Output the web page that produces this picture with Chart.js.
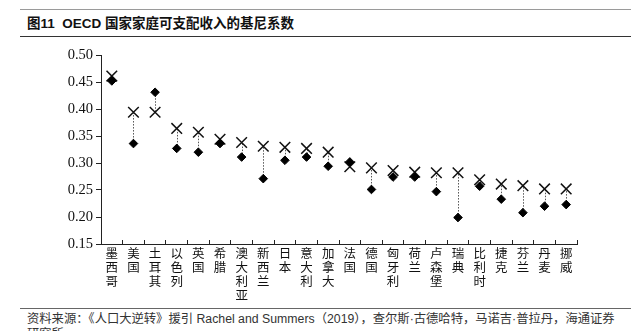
<!DOCTYPE html>
<html lang="zh">
<head>
<meta charset="utf-8">
<script src="https://cdn.jsdelivr.net/npm/chart.js@4/dist/chart.umd.min.js"></script>
<style>
  html, body { margin: 0; padding: 0; background: #fff; }
  body { width: 631px; height: 331px; position: relative; overflow: hidden; }
  .rule-top { position: absolute; left: 20px; right: 0; top: 9px; height: 1px; background: #9a9a9a; }
  .title {
    position: absolute; left: 27px; top: 15px;
    font: bold 13.5px "Liberation Sans", "Noto Sans CJK SC", sans-serif;
    color: #111; white-space: nowrap; line-height: 18px;
  }
  .rule-mid { position: absolute; left: 20px; right: 0; top: 36px; height: 1px; background: #333; }
  .chart-box { position: absolute; left: 0; top: 40px; width: 631px; height: 266px; }
  .rule-foot { position: absolute; left: 20px; right: 0; top: 308px; height: 1px; background: #666; }
  .source {
    position: absolute; left: 27px; top: 312px; width: 590px;
    font: 12.3px "Liberation Sans", "Noto Sans CJK SC", sans-serif;
    color: #333; line-height: 15px;
  }
</style>
</head>
<body>
<div class="rule-top"></div>
<div class="title">图11&nbsp;&nbsp;OECD 国家家庭可支配收入的基尼系数</div>
<div class="rule-mid"></div>
<div class="chart-box"><canvas id="chart"></canvas></div>
<div class="rule-foot"></div>
<div class="source">资料来源：《人口大逆转》援引 Rachel and Summers（2019），查尔斯·古德哈特，马诺吉·普拉丹，海通证券研究所</div>

<script>
// 数据
const countries = ["墨西哥", "美国", "土耳其", "以色列", "英国", "希腊", "澳大利亚", "新西兰",
  "日本", "意大利", "加拿大", "法国", "德国", "匈牙利", "荷兰", "卢森堡", "瑞典", "比利时",
  "捷克", "芬兰", "丹麦", "挪威"];
// 叉号
const crossValues = [0.461, 0.394, 0.394, 0.364, 0.357, 0.344, 0.338, 0.331, 0.329, 0.327,
  0.320, 0.293, 0.291, 0.286, 0.283, 0.282, 0.282, 0.269, 0.261, 0.258, 0.252, 0.252];
// 菱形
const diamondValues = [0.452, 0.336, 0.431, 0.327, 0.320, 0.336, 0.311, 0.271, 0.305, 0.311,
  0.294, 0.302, 0.251, 0.274, 0.274, 0.247, 0.199, 0.257, 0.233, 0.208, 0.220, 0.223];
const yMin = 0.15;
const yMax = 0.50;
const yStep = 0.05;

// 虚线连接两个点
const connectors = {
  id: "connectors",
  beforeDatasetsDraw(chart) {
    const a = chart.getDatasetMeta(0).data;
    const b = chart.getDatasetMeta(1).data;
    const ctx = chart.ctx;
    ctx.save();
    ctx.strokeStyle = "#555";
    ctx.lineWidth = 1;
    ctx.setLineDash([1.5, 1.5]);
    a.forEach((p, i) => {
      const q = b[i];
      if (!q) return;
      const x = Math.round(p.x) + 0.5;
      ctx.beginPath();
      ctx.moveTo(x, p.y);
      ctx.lineTo(x, q.y);
      ctx.stroke();
    });
    ctx.restore();
  }
};

new Chart(document.getElementById("chart"), {
  type: "line",
  data: {
    labels: countries.map((c) => c.split("")),
    datasets: [
      {
        data: diamondValues,
        showLine: false,
        pointStyle: "rectRot",
        pointRadius: 4.3,
        backgroundColor: "#000",
        borderColor: "#000",
        borderWidth: 1
      },
      {
        data: crossValues,
        showLine: false,
        pointStyle: "crossRot",
        pointRadius: 7.5,
        borderColor: "#111",
        borderWidth: 1.5
      }
    ]
  },
  options: {
    responsive: true,
    maintainAspectRatio: false,
    animation: false,
    events: [],
    layout: { padding: { top: 15, right: 54, bottom: 0, left: 0 } },
    plugins: { legend: { display: false }, tooltip: { enabled: false } },
    scales: {
      x: {
        offset: true,
        grid: { offset: true, drawOnChartArea: false, tickLength: -4, color: "#222", lineWidth: 1 },
        border: { color: "#222", width: 1 },
        ticks: {
          autoSkip: false,
          maxRotation: 0,
          padding: 6,
          color: "#111",
          font: { family: "'Noto Sans CJK SC', sans-serif", size: 12.5, lineHeight: 14 / 12.5 }
        },
        afterFit(scale) { scale.height = 62; }
      },
      y: {
        min: yMin,
        max: yMax,
        grid: { drawOnChartArea: false, tickLength: 5, color: "#222" },
        border: { color: "#222", width: 1 },
        ticks: {
          stepSize: yStep,
          padding: 3,
          color: "#111",
          font: { family: "'Liberation Serif', serif", size: 14.5 },
          callback: (v) => Number(v).toFixed(2)
        },
        afterFit(scale) { scale.width = 101; }
      }
    }
  },
  plugins: [connectors]
});
</script>
</body>
</html>
